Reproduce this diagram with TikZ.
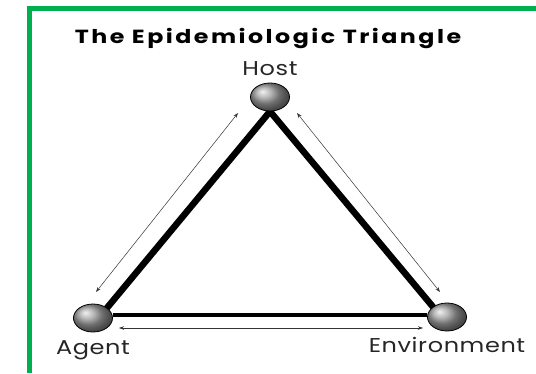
\documentclass[tikz,border=0pt]{standalone}
\usepackage{fontspec}
\setmainfont{Poppins}
\usepackage{xcolor}
\usepackage{tikz}
\usetikzlibrary{shapes.geometric,arrows.meta,positioning,backgrounds}

\definecolor{frameGreen}{HTML}{00B050}

\begin{document}
\begin{tikzpicture}[
  x=1pt, y=-1pt,
  every node/.style = {inner sep=0pt},
  ball/.style       = {ellipse, draw=black, line width=0.8pt, shading=ball,
                       ball color=gray!75, minimum width=39pt, minimum height=28pt},
  side/.style       = {line width=6.5pt, line cap=round},
  base/.style       = {line width=4pt},
  twoway/.style     = {{Stealth[length=5pt,width=3.5pt]}-{Stealth[length=5pt,width=3.5pt]},
                       line width=0.5pt, black!80},
  lbl/.style        = {font=\fontsize{20}{20}\selectfont\addfontfeatures{FakeStretch=1.2,LetterSpace=3},
                       text=black!85},
  ttl/.style        = {font=\fontsize{19}{19}\selectfont\bfseries\addfontfeatures{FakeStretch=1.25,LetterSpace=13}},
]

% ── Canvas and green frame ───────────────────────────────────
\useasboundingbox (0,0) rectangle (536,373);
\draw[frameGreen, line width=5.5pt] (29.5,373) -- (29.5,8.5) -- (536,8.5);

% ── Title ────────────────────────────────────────────────────
\node[ttl] (title) at (268,38) {The Epidemiologic Triangle};

% ── Corners of the triangle ──────────────────────────────────
\node[ball] (host)  at (270,97)  {};
\node[ball] (agent) at (93,318)  {};
\node[ball] (env)   at (447,317) {};

\node[lbl, above=7pt of host]  (hostlbl)  {Host};
\node[lbl, below=8pt of agent] (agentlbl) {Agent};
\node[lbl, below=6pt of env]   (envlbl)   {Environment};

% ── Thick sides (behind the balls) ───────────────────────────
\begin{scope}[on background layer]
\draw[side] (host.south) -- (agent.north east);
\draw[side] (host.south) -- (env.north west);
\draw[base] (agent.east |- 0,315) -- (env.west |- 0,315);
\end{scope}

% ── Thin two-way arrows ──────────────────────────────────────
\coordinate (lTop) at (238,113);
\coordinate (lBot) at (96,292);
\coordinate (rTop) at (297,113);
\coordinate (rBot) at (440,292);
\coordinate (bL)   at (119,328);
\coordinate (bR)   at (423,328);

\draw[twoway] (lTop) -- (lBot);
\draw[twoway] (rTop) -- (rBot);
\draw[twoway] (bL)   -- (bR);

\end{tikzpicture}
\end{document}
